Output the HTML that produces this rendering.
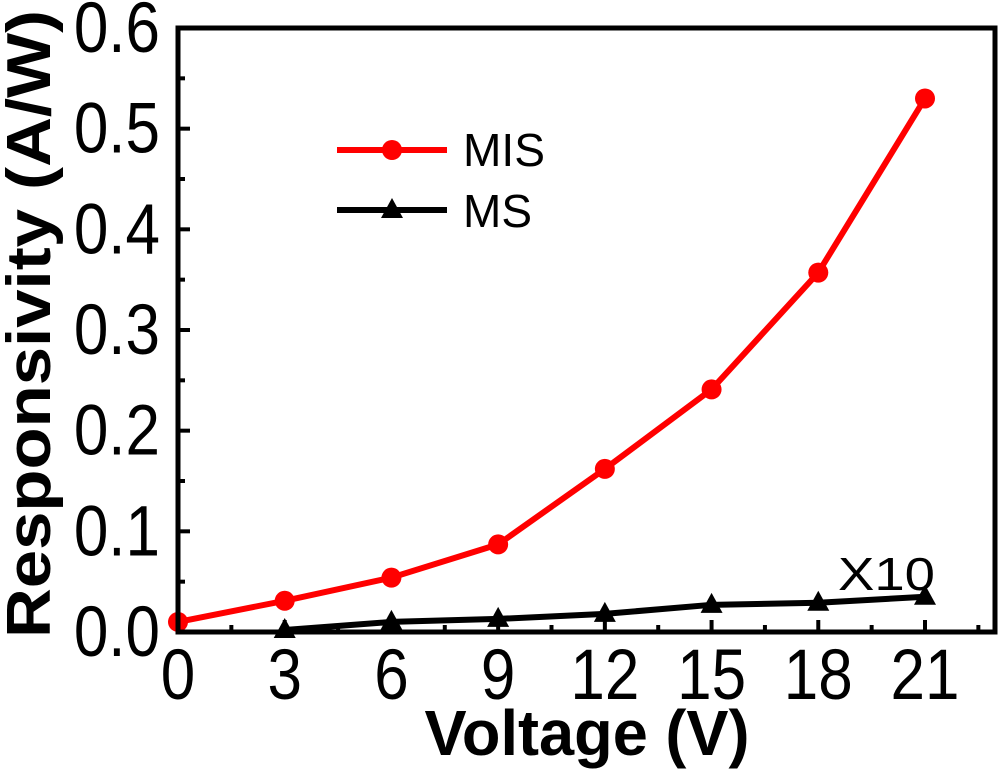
<!DOCTYPE html>
<html><head><meta charset="utf-8"><style>
html,body{margin:0;padding:0;background:#fff;}
svg{display:block;font-family:"Liberation Sans",Arial,sans-serif;}
</style></head><body>
<svg id="chart" width="1000" height="771" viewBox="0 0 1000 771" xmlns="http://www.w3.org/2000/svg">
<g id="ticks"></g>
<g id="series"></g>
<rect x="178" y="28" width="817" height="604" fill="none" stroke="#000" stroke-width="5"/>
<text transform="translate(50,324) rotate(-90)" text-anchor="middle" font-weight="bold" font-size="62" textLength="628" lengthAdjust="spacingAndGlyphs">Responsivity (A/W)</text>
<text x="587" y="755" text-anchor="middle" font-weight="bold" font-size="64" textLength="325" lengthAdjust="spacingAndGlyphs">Voltage (V)</text>
<g>
<line x1="337" y1="150" x2="447" y2="150" stroke="#ff0000" stroke-width="6"/>
<circle cx="392" cy="150" r="10" fill="#ff0000"/>
<text x="463" y="166" font-size="46" textLength="82" lengthAdjust="spacingAndGlyphs">MIS</text>
<line x1="337" y1="210" x2="447" y2="210" stroke="#000" stroke-width="6"/>
<polygon points="392,198 381,218 403,218" fill="#000"/>
<text x="463" y="227" font-size="46">MS</text>
</g>
<text x="838" y="590" font-size="46" textLength="97" lengthAdjust="spacingAndGlyphs">X10</text>
</svg>
<script>
const voltages = [0, 3, 6, 9, 12, 15, 18, 21];
const misValues = [0.010, 0.031, 0.054, 0.087, 0.162, 0.241, 0.357, 0.530];
const msVoltages = [3, 6, 9, 12, 15, 18, 21];
const msValues = [0.002, 0.010, 0.013, 0.018, 0.027, 0.029, 0.035];
const xTickLabels = ["0", "3", "6", "9", "12", "15", "18", "21"];
const yTickLabels = ["0.0", "0.1", "0.2", "0.3", "0.4", "0.5", "0.6"];

const NS = "http://www.w3.org/2000/svg";
function xs(v){ return 178 + v * (925 - 178) / 21; }
function ys(v){ return 632 - v * (632 - 28) / 0.6; }
function mk(tag, attrs, parent){ const e = document.createElementNS(NS, tag); for (const k in attrs) e.setAttribute(k, attrs[k]); parent.appendChild(e); return e; }

const tg = document.getElementById('ticks');
xTickLabels.forEach(function(l){
  const v = parseFloat(l);
  const t = mk('line', {x1: xs(v), x2: xs(v), y1: 632, y2: 620, stroke: '#000', 'stroke-width': 4}, tg);
  
  
  const m = mk('line', {x1: xs(v + 1.5), x2: xs(v + 1.5), y1: 632, y2: 625, stroke: '#000', 'stroke-width': 4}, tg);
  
  
  const tx = mk('text', {transform: 'translate(' + xs(v) + ',699) scale(1,1.15)', 'text-anchor': 'middle', 'font-size': 62}, tg);
  tx.textContent = l;
  
  
});
yTickLabels.forEach(function(l){
  const v = parseFloat(l);
  const t = mk('line', {x1: 178, x2: 190, y1: ys(v), y2: ys(v), stroke: '#000', 'stroke-width': 4}, tg);
  
  
  if (v < 0.6) {
    const m = mk('line', {x1: 178, x2: 185, y1: ys(v + 0.05), y2: ys(v + 0.05), stroke: '#000', 'stroke-width': 4}, tg);
    
    
  }
  const tx = mk('text', {transform: 'translate(160,' + (ys(v) + 24) + ') scale(1,1.15)', 'text-anchor': 'end', 'font-size': 62}, tg);
  tx.textContent = l;
  
  
});

const sg = document.getElementById('series');
const misLine = mk('polyline', {points: voltages.map(function(v, i){ return xs(v) + ',' + ys(misValues[i]); }).join(' '), fill: 'none', stroke: '#ff0000', 'stroke-width': 6}, sg);


voltages.forEach(function(v, i){
  const c = mk('circle', {cx: xs(v), cy: ys(misValues[i]), r: 10, fill: '#ff0000'}, sg);
  
  
});
const msLine = mk('polyline', {points: msVoltages.map(function(v, i){ return xs(v) + ',' + ys(msValues[i]); }).join(' '), fill: 'none', stroke: '#000', 'stroke-width': 6}, sg);


msVoltages.forEach(function(v, i){
  const x = xs(v), y = ys(msValues[i]);
  const p = mk('polygon', {points: x + ',' + (y - 12) + ' ' + (x - 11) + ',' + (y + 8) + ' ' + (x + 11) + ',' + (y + 8), fill: '#000'}, sg);
  
  
});
</script>
</body></html>
